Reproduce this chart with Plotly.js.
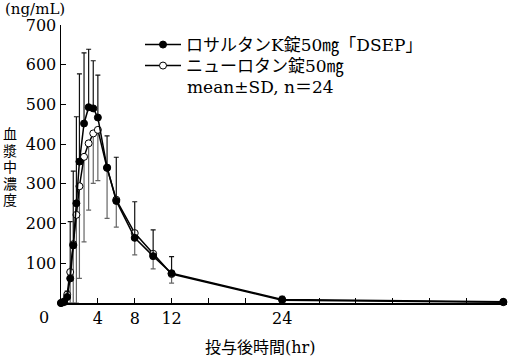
<!DOCTYPE html>
<html>
<head>
<meta charset="utf-8">
<script src="https://cdn.plot.ly/plotly-3.0.1.min.js"></script>
<style>html,body{margin:0;padding:0;background:#fff;}#chart{width:513px;height:357px;}</style>
</head>
<body>
<div id="chart"></div>
<script>
// Sampling times (hr)
const times = [0, 0.33, 0.67, 1, 1.33, 1.67, 2, 2.5, 3, 3.5, 4, 5, 6, 8, 10, 12, 24, 48];
// ロサルタンK錠50mg「DSEP」 mean and SD (ng/mL)
const testMean = [0, 4, 15, 62, 145, 251, 356, 452, 493, 490, 467, 341, 257, 164, 118, 75, 9, 3];
const testSD   = [0, 3, 15, 143, 187, 218, 221, 178, 146, 120, 107, 80, 110, 91, 66, 42, 8, 3];
// ニューロタン錠50mg mean and SD (ng/mL)
const refMean  = [0, 2, 21, 78, 148, 222, 294, 368, 402, 427, 436, 340, 260, 176, 124, 73, 7, 2];
const refSD    = [0, 2, 21, 78, 148, 222, 232, 214, 168, 126, 128, 127, 69, 55, 38, 23, 6, 2];

const seriesNames = ['ロサルタンK錠50㎎「DSEP」', 'ニューロタン錠50㎎'];
const noteText = 'mean±SD, n＝24';
const xTickVals = [0, 4, 8, 12, 16, 20, 24, 28, 32, 36, 40, 44, 48];
const xTickText = ['', '4', '8', '12', '', '', '24', '', '', '', '', '', '48'];
const yTickVals = [100, 200, 300, 400, 500, 600, 700];
const yUnit = '(ng/mL)';
const yTitleChars = ['血', '漿', '中', '濃', '度'];
const xTitle = '投与後時間(hr)';

const FONT = 'DejaVu Serif, Noto Sans CJK JP, serif';

const W = 513, H = 357, L = 61, R = 6, T = 25, B = 54;
const PW = W - L - R, PH = H - T - B;
const px = x => (x - L) / PW;
const py = y => (H - B - y) / PH;

const refTrace = {
  x: times, y: refMean, name: seriesNames[1], type: 'scatter', mode: 'lines+markers',
  legend: 'legend2',
  line: {color: '#000', width: 1.5},
  marker: {symbol: 'circle', size: 7, color: '#fff', line: {color: '#000', width: 1}},
  error_y: {type: 'data', symmetric: false, array: refSD.map(() => 0), arrayminus: refSD,
            color: '#666', thickness: 1.2, width: 2.5},
  cliponaxis: false
};
const testTrace = {
  x: times, y: testMean, name: seriesNames[0], type: 'scatter', mode: 'lines+markers',
  legend: 'legend',
  line: {color: '#000', width: 1.5},
  marker: {symbol: 'circle', size: 7, color: '#000', line: {color: '#000', width: 1}},
  error_y: {type: 'data', symmetric: false, array: testSD, arrayminus: testSD.map(() => 0),
            color: '#111', thickness: 1.2, width: 2.5},
  cliponaxis: false
};

function ann(text, x, y, size, xanchor) {
  return {text: text, xref: 'paper', yref: 'paper', x: px(x), y: py(y),
          xanchor: xanchor || 'center', yanchor: 'middle', showarrow: false,
          borderpad: 0, font: {family: FONT, size: size, color: '#000'}};
}

const annotations = [
  ann(yUnit, 35, 9.5, 15),
  ann('0', 44, 317, 16),
  ann(xTitle, 260, 348, 16),
  ann(noteText, 186, 87, 17, 'left')
];
yTitleChars.forEach((c, i) => {
  annotations.push(ann(c, 10, 134 + i * 16.5, 14));
});

function legendAt(y) {
  return {x: px(140), y: py(y), xanchor: 'left', yanchor: 'middle',
          bgcolor: 'rgba(0,0,0,0)', borderwidth: 0,
          font: {family: FONT, size: 17, color: '#000'}, itemwidth: 36};
}

const layout = {
  width: W, height: H,
  margin: {l: L, r: R, t: T, b: B, pad: 0},
  paper_bgcolor: '#fff', plot_bgcolor: '#fff',
  showlegend: true,
  legend: legendAt(45),
  legend2: legendAt(66),
  xaxis: {range: [0, 48.4], tickmode: 'array', tickvals: xTickVals, ticktext: xTickText,
          ticks: 'inside', ticklen: 5, tickwidth: 1, tickcolor: '#000',
          showline: true, linecolor: '#000', linewidth: 1.5, showgrid: false, zeroline: false,
          tickfont: {family: FONT, size: 16, color: '#000'}, fixedrange: true},
  yaxis: {range: [0, 700], tickmode: 'array', tickvals: yTickVals,
          ticks: 'inside', ticklen: 5, tickwidth: 1, tickcolor: '#000',
          showline: true, linecolor: '#000', linewidth: 1.5, showgrid: false, zeroline: false,
          tickfont: {family: FONT, size: 16, color: '#000'}, fixedrange: true},
  annotations: annotations
};

Plotly.newPlot('chart', [refTrace, testTrace], layout, {displayModeBar: false, staticPlot: true});
</script>
</body>
</html>
